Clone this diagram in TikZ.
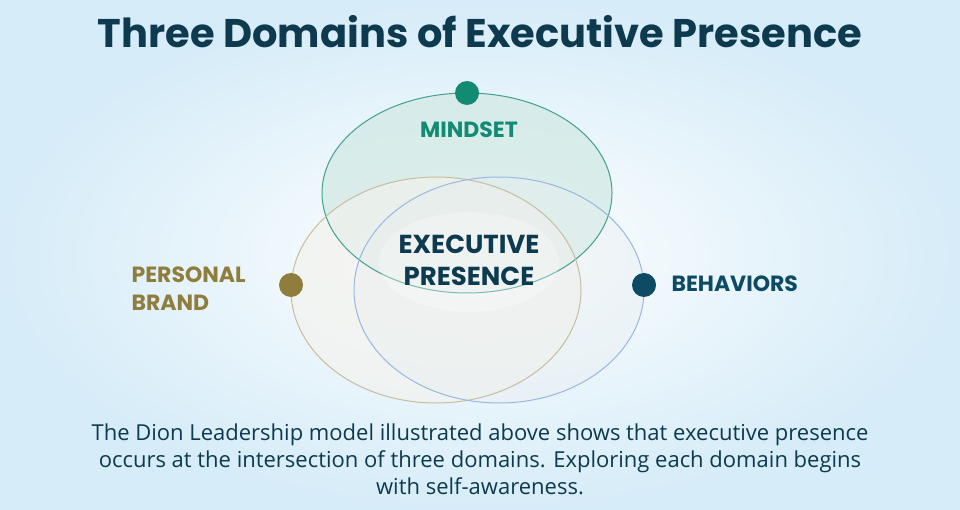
\documentclass[tikz,border=0pt]{standalone}
\usepackage{fontspec}
\setmainfont{Open Sans}
\newfontfamily\bold{Poppins}
\definecolor{navy}{HTML}{0D3A4E}
\definecolor{teal}{HTML}{138A72}
\definecolor{olive}{HTML}{8E7D3D}
\definecolor{bnavy}{HTML}{0D4A63}
\definecolor{bg}{HTML}{D6ECF8}
\begin{document}
\begin{tikzpicture}[x=1pt,y=-1pt,
  lab/.style={font=\bold\bfseries\fontsize{22}{28}\selectfont,align=left},
  dot/.style={circle,minimum size=24pt,inner sep=0pt}]
\useasboundingbox (0,0) rectangle (960,510);
\shade[inner color=white,outer color=bg] (0,0) rectangle (960,510);
\node (title) at (480,32) {\bold\bfseries\fontsize{40}{46}\selectfont\color{navy}Three Domains of Executive Presence};
\fill[teal!20,opacity=0.7] (467,193) ellipse [x radius=145,y radius=100];
\fill[olive!10,opacity=0.6] (436,290) ellipse [x radius=145,y radius=113];
\fill[bnavy!10,opacity=0.4] (499,290) ellipse [x radius=145,y radius=113];
\draw[teal!80,line width=1pt] (467,193) ellipse [x radius=145,y radius=100];
\draw[olive!50,line width=1pt] (436,290) ellipse [x radius=145,y radius=113];
\draw[cyan!50!blue!40,line width=1pt] (499,290) ellipse [x radius=145,y radius=113];
\fill[white,opacity=0.3] (469,262) ellipse [x radius=90,y radius=50];
\node[dot,fill=teal] (dm) at (467,93) {};
\node[dot,fill=olive] (dp) at (291,285) {};
\node[dot,fill=bnavy] (db) at (644,285) {};
\node[lab,text=teal] (m) at (469,130) {MINDSET};
\node[lab,text=olive,anchor=west] (p) at (128,289) {PERSONAL\\BRAND};
\node[lab,text=bnavy,anchor=west] (b) at (668,284) {BEHAVIORS};
\node[lab,text=navy,align=center,font=\bold\bfseries\fontsize{26}{32}\selectfont] (e) at (469,260) {EXECUTIVE\\PRESENCE};
\node[align=center,text=navy,font=\fontsize{22}{27}\selectfont] (cap) at (480,459) {The Dion Leadership model illustrated above shows that executive presence\\occurs at the intersection of three domains. Exploring each domain begins\\with self-awareness.};
\end{tikzpicture}
\end{document}
